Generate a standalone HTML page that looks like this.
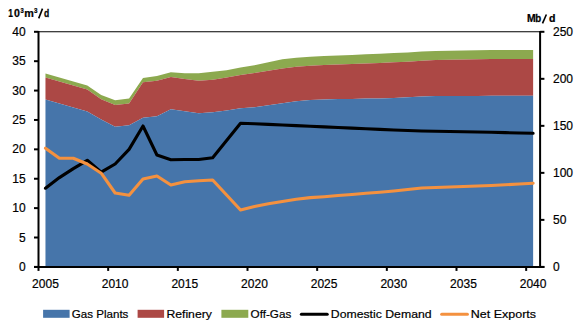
<!DOCTYPE html>
<html><head><meta charset="utf-8"><style>
html,body{margin:0;padding:0;background:#fff;width:580px;height:330px;overflow:hidden}
svg{display:block}
text{font-family:"Liberation Sans",sans-serif;fill:#000}
.ax{font-size:12px;stroke:#000;stroke-width:0.2px}
.lg{font-size:11.8px;stroke:#000;stroke-width:0.2px}
.ti{font-weight:bold;stroke:#000;stroke-width:0.25px}
</style></head><body>
<svg width="580" height="330" viewBox="0 0 580 330">
<polygon points="45.47,73.50 59.40,77.50 73.33,81.50 87.27,85.50 101.20,95.00 115.13,100.30 129.07,98.60 143.00,78.00 156.93,75.90 170.87,72.30 184.80,73.30 198.73,73.30 212.67,71.80 226.60,70.20 240.53,67.60 254.47,65.30 268.40,62.20 282.33,59.20 296.27,57.70 310.20,56.70 324.13,56.00 338.07,55.50 352.00,54.90 365.93,54.30 379.87,53.80 393.80,53.10 407.73,52.40 421.67,51.60 435.60,51.00 449.53,50.70 463.47,50.40 477.40,50.30 491.33,50.10 505.27,50.00 519.20,50.00 533.13,50.00 533.13,59.00 519.20,59.00 505.27,59.00 491.33,59.10 477.40,59.20 463.47,59.40 449.53,59.70 435.60,60.10 421.67,60.80 407.73,61.70 393.80,62.30 379.87,63.00 365.93,63.40 352.00,63.90 338.07,64.50 324.13,65.10 310.20,65.70 296.27,66.70 282.33,68.40 268.40,70.80 254.47,72.90 240.53,75.00 226.60,77.60 212.67,79.70 198.73,80.80 184.80,79.00 170.87,77.00 156.93,80.80 143.00,82.30 129.07,103.50 115.13,105.00 101.20,99.30 87.27,89.50 73.33,85.40 59.40,81.40 45.47,77.40" fill="#8CA94F"/>
<polygon points="45.47,77.40 59.40,81.40 73.33,85.40 87.27,89.50 101.20,99.30 115.13,105.00 129.07,103.50 143.00,82.30 156.93,80.80 170.87,77.00 184.80,79.00 198.73,80.80 212.67,79.70 226.60,77.60 240.53,75.00 254.47,72.90 268.40,70.80 282.33,68.40 296.27,66.70 310.20,65.70 324.13,65.10 338.07,64.50 352.00,63.90 365.93,63.40 379.87,63.00 393.80,62.30 407.73,61.70 421.67,60.80 435.60,60.10 449.53,59.70 463.47,59.40 477.40,59.20 491.33,59.10 505.27,59.00 519.20,59.00 533.13,59.00 533.13,95.80 519.20,95.80 505.27,95.80 491.33,95.80 477.40,95.90 463.47,95.90 449.53,95.90 435.60,96.00 421.67,96.50 407.73,97.20 393.80,97.90 379.87,98.40 365.93,98.60 352.00,98.90 338.07,99.10 324.13,99.60 310.20,100.10 296.27,101.30 282.33,103.20 268.40,105.20 254.47,107.30 240.53,108.30 226.60,110.50 212.67,112.20 198.73,113.20 184.80,111.20 170.87,109.20 156.93,116.20 143.00,117.70 129.07,125.30 115.13,126.80 101.20,119.50 87.27,111.40 73.33,107.50 59.40,103.50 45.47,99.50" fill="#AC4845"/>
<polygon points="45.47,99.50 59.40,103.50 73.33,107.50 87.27,111.40 101.20,119.50 115.13,126.80 129.07,125.30 143.00,117.70 156.93,116.20 170.87,109.20 184.80,111.20 198.73,113.20 212.67,112.20 226.60,110.50 240.53,108.30 254.47,107.30 268.40,105.20 282.33,103.20 296.27,101.30 310.20,100.10 324.13,99.60 338.07,99.10 352.00,98.90 365.93,98.60 379.87,98.40 393.80,97.90 407.73,97.20 421.67,96.50 435.60,96.00 449.53,95.90 463.47,95.90 477.40,95.90 491.33,95.80 505.27,95.80 519.20,95.80 533.13,95.80 533.13,266.90 45.47,266.90" fill="#4675AA"/>
<polyline points="45.47,188.20 59.40,177.60 73.33,168.60 87.27,160.30 101.20,172.20 115.13,164.00 129.07,149.40 143.00,126.00 156.93,155.00 170.87,159.70 184.80,159.50 198.73,159.50 212.67,157.70 226.60,140.50 240.53,123.30 254.47,123.70 268.40,124.33 282.33,124.96 296.27,125.59 310.20,126.22 324.13,126.85 338.07,127.48 352.00,128.11 365.93,128.74 379.87,129.37 393.80,130.00 407.73,130.50 421.67,131.00 435.60,131.30 449.53,131.50 463.47,131.80 477.40,132.00 491.33,132.30 505.27,132.60 519.20,133.00 533.13,133.30" fill="none" stroke="#000" stroke-width="3.1" stroke-linejoin="round" stroke-linecap="round"/>
<polyline points="45.47,148.20 59.40,158.30 73.33,158.30 87.27,164.00 101.20,173.20 115.13,193.00 129.07,195.30 143.00,179.00 156.93,176.00 170.87,185.00 184.80,181.70 198.73,180.70 212.67,180.00 226.60,195.00 240.53,210.00 254.47,206.60 268.40,203.80 282.33,201.50 296.27,199.30 310.20,197.60 324.13,196.70 338.07,195.50 352.00,194.50 365.93,193.30 379.87,192.30 393.80,191.00 407.73,189.50 421.67,188.00 435.60,187.50 449.53,187.00 463.47,186.50 477.40,186.00 491.33,185.50 505.27,184.80 519.20,184.00 533.13,183.30" fill="none" stroke="#F4913F" stroke-width="3.1" stroke-linejoin="round" stroke-linecap="round"/>
<line x1="38.5" y1="31.8" x2="540.1" y2="31.8" stroke="#000" stroke-width="1.1"/>
<line x1="38.5" y1="31.0" x2="38.5" y2="270.9" stroke="#000" stroke-width="2"/>
<line x1="540.1" y1="31.0" x2="540.1" y2="267.7" stroke="#000" stroke-width="2"/>
<line x1="34.0" y1="266.9" x2="544.4" y2="266.9" stroke="#000" stroke-width="2"/>
<line x1="34.0" y1="266.90" x2="38.5" y2="266.90" stroke="#000" stroke-width="2"/>
<text x="25.7" y="271.00" text-anchor="end" class="ax">0</text>
<line x1="34.0" y1="237.51" x2="38.5" y2="237.51" stroke="#000" stroke-width="2"/>
<text x="25.7" y="241.61" text-anchor="end" class="ax">5</text>
<line x1="34.0" y1="208.12" x2="38.5" y2="208.12" stroke="#000" stroke-width="2"/>
<text x="25.7" y="212.22" text-anchor="end" class="ax">10</text>
<line x1="34.0" y1="178.74" x2="38.5" y2="178.74" stroke="#000" stroke-width="2"/>
<text x="25.7" y="182.84" text-anchor="end" class="ax">15</text>
<line x1="34.0" y1="149.35" x2="38.5" y2="149.35" stroke="#000" stroke-width="2"/>
<text x="25.7" y="153.45" text-anchor="end" class="ax">20</text>
<line x1="34.0" y1="119.96" x2="38.5" y2="119.96" stroke="#000" stroke-width="2"/>
<text x="25.7" y="124.06" text-anchor="end" class="ax">25</text>
<line x1="34.0" y1="90.57" x2="38.5" y2="90.57" stroke="#000" stroke-width="2"/>
<text x="25.7" y="94.67" text-anchor="end" class="ax">30</text>
<line x1="34.0" y1="61.19" x2="38.5" y2="61.19" stroke="#000" stroke-width="2"/>
<text x="25.7" y="65.29" text-anchor="end" class="ax">35</text>
<line x1="34.0" y1="31.80" x2="38.5" y2="31.80" stroke="#000" stroke-width="2"/>
<text x="25.7" y="35.90" text-anchor="end" class="ax">40</text>
<line x1="540.1" y1="266.90" x2="544.4" y2="266.90" stroke="#000" stroke-width="2"/>
<text x="553" y="271.00" class="ax">0</text>
<line x1="540.1" y1="219.88" x2="544.4" y2="219.88" stroke="#000" stroke-width="2"/>
<text x="553" y="223.98" class="ax">50</text>
<line x1="540.1" y1="172.86" x2="544.4" y2="172.86" stroke="#000" stroke-width="2"/>
<text x="553" y="176.96" class="ax">100</text>
<line x1="540.1" y1="125.84" x2="544.4" y2="125.84" stroke="#000" stroke-width="2"/>
<text x="553" y="129.94" class="ax">150</text>
<line x1="540.1" y1="78.82" x2="544.4" y2="78.82" stroke="#000" stroke-width="2"/>
<text x="553" y="82.92" class="ax">200</text>
<line x1="540.1" y1="31.80" x2="544.4" y2="31.80" stroke="#000" stroke-width="2"/>
<text x="553" y="35.90" class="ax">250</text>
<text x="45.47" y="288.4" text-anchor="middle" class="ax">2005</text>
<line x1="108.17" y1="266.9" x2="108.17" y2="270.9" stroke="#000" stroke-width="2"/>
<text x="115.13" y="288.4" text-anchor="middle" class="ax">2010</text>
<line x1="177.83" y1="266.9" x2="177.83" y2="270.9" stroke="#000" stroke-width="2"/>
<text x="184.80" y="288.4" text-anchor="middle" class="ax">2015</text>
<line x1="247.50" y1="266.9" x2="247.50" y2="270.9" stroke="#000" stroke-width="2"/>
<text x="254.47" y="288.4" text-anchor="middle" class="ax">2020</text>
<line x1="317.17" y1="266.9" x2="317.17" y2="270.9" stroke="#000" stroke-width="2"/>
<text x="324.13" y="288.4" text-anchor="middle" class="ax">2025</text>
<line x1="386.83" y1="266.9" x2="386.83" y2="270.9" stroke="#000" stroke-width="2"/>
<text x="393.80" y="288.4" text-anchor="middle" class="ax">2030</text>
<line x1="456.50" y1="266.9" x2="456.50" y2="270.9" stroke="#000" stroke-width="2"/>
<text x="463.47" y="288.4" text-anchor="middle" class="ax">2035</text>
<line x1="526.17" y1="266.9" x2="526.17" y2="270.9" stroke="#000" stroke-width="2"/>
<text x="533.13" y="288.4" text-anchor="middle" class="ax">2040</text>
<text transform="translate(8.37,16.75) scale(0.788,1)" font-size="10.74" class="ti">1</text>
<text transform="translate(14.03,16.74) scale(0.995,1)" font-size="10.58" class="ti">0</text>
<text transform="translate(20.61,13.22) scale(0.790,1)" font-size="7.39" class="ti">3</text>
<text transform="translate(24.34,16.75) scale(1.001,1)" font-size="10.76" class="ti">m</text>
<text transform="translate(34.10,13.42) scale(0.837,1)" font-size="7.46" class="ti">3</text>
<text transform="translate(44.00,16.74) scale(0.804,1)" font-size="10.61" class="ti">d</text>
<text transform="translate(526.94,22.05) scale(1.007,1)" font-size="10.38" class="ti">M</text>
<text transform="translate(535.31,22.00) scale(0.960,1)" font-size="10.14" class="ti">b</text>
<text transform="translate(548.92,22.00) scale(1.011,1)" font-size="10.41" class="ti">d</text>
<line x1="38.7" y1="18.4" x2="42.5" y2="8.6" stroke="#000" stroke-width="1.6"/>
<line x1="542.5" y1="23.4" x2="546.4" y2="14.5" stroke="#000" stroke-width="1.6"/>
<rect x="43.1" y="309.8" width="26.5" height="8" fill="#4675AA"/>
<text x="71.8" y="317.8" class="lg" textLength="56.6" lengthAdjust="spacingAndGlyphs">Gas Plants</text>
<rect x="137.6" y="309.8" width="26.5" height="8" fill="#AC4845"/>
<text x="166.4" y="317.8" class="lg" textLength="45.5" lengthAdjust="spacingAndGlyphs">Refinery</text>
<rect x="221.4" y="309.8" width="26.9" height="8" fill="#8CA94F"/>
<text x="250.6" y="317.8" class="lg" textLength="40.7" lengthAdjust="spacingAndGlyphs">Off-Gas</text>
<line x1="301.4" y1="314.2" x2="327.2" y2="314.2" stroke="#000" stroke-width="3.1" stroke-linecap="round"/>
<text x="330.8" y="317.8" class="lg" textLength="100.8" lengthAdjust="spacingAndGlyphs">Domestic Demand</text>
<line x1="441.7" y1="314.2" x2="467.4" y2="314.2" stroke="#F4913F" stroke-width="3.1" stroke-linecap="round"/>
<text x="470.8" y="317.8" class="lg" textLength="65.3" lengthAdjust="spacingAndGlyphs">Net Exports</text>
</svg>
</body></html>
